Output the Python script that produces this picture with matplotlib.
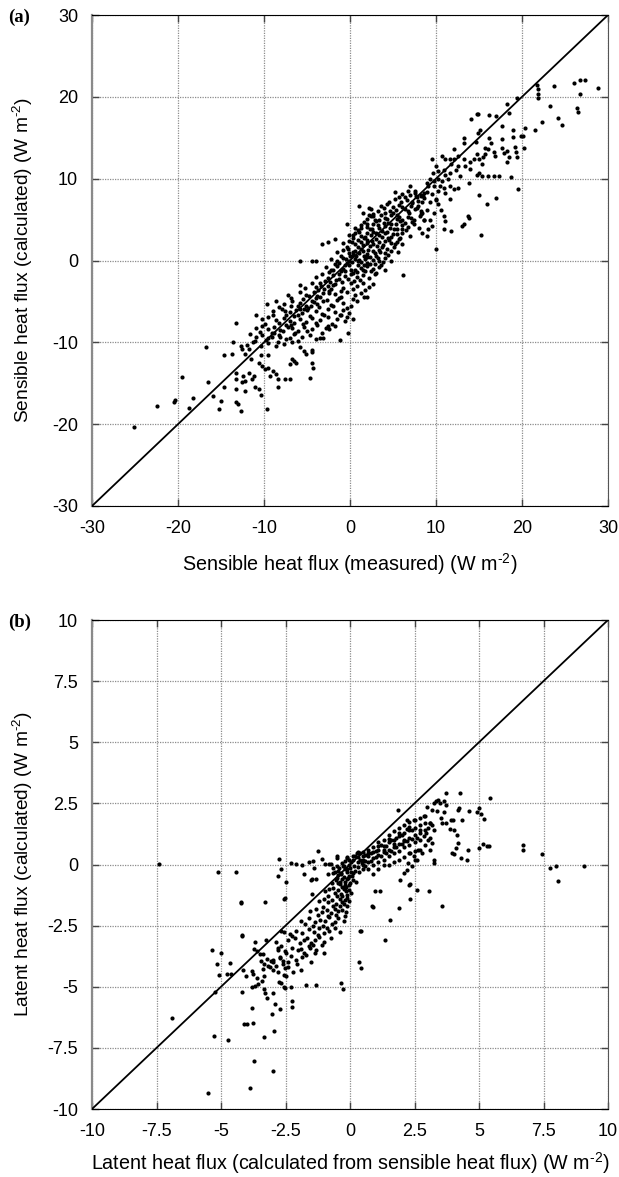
import numpy as np
import matplotlib.pyplot as plt
from matplotlib.ticker import FuncFormatter

plt.rcParams['font.family'] = ['Liberation Sans', 'DejaVu Sans']
plt.rcParams['mathtext.fontset'] = 'custom'
plt.rcParams['mathtext.rm'] = 'Liberation Sans'
plt.rcParams['mathtext.default'] = 'regular'

# ---- panel (a): sensible heat flux, measured vs calculated (W m-2) ----
a_low_tail = [
    (-25.1, -20.4), (-22.4, -17.8), (-20.5, -17.3), (-20.3, -17.0), (-19.5, -14.2), (-18.7, -18.0),
    (-18.3, -16.8), (-16.8, -10.6), (-16.5, -14.9), (-15.9, -16.5), (-15.2, -18.2), (-15.0, -17.2),
    (-14.7, -15.5), (-14.7, -11.6), (-13.6, -10.0), (-13.7, -11.4), (-13.3, -7.6), (-13.3, -13.7),
    (-13.2, -14.5), (-13.3, -15.7), (-13.2, -17.3), (-13.0, -17.5), (-12.7, -18.4), (-12.7, -10.4),
    (-12.6, -10.8), (-12.4, -14.1), (-12.2, -14.7), (-12.6, -14.9), (-12.2, -11.4), (-11.7, -10.8),
    (-11.5, -12.0), (-11.7, -13.7), (-11.2, -14.1), (-11.4, -14.5), (-12.2, -15.9), (-11.0, -15.5),
    (-10.6, -15.7), (-10.4, -16.4), (-9.7, -18.1), (-10.9, -6.6), (-10.6, -12.5), (-10.2, -12.9),
    (-9.9, -13.2), (-9.5, -13.1), (-9.0, -13.5), (-9.3, -14.1), (-8.6, -13.9), (-8.4, -14.5),
    (-10.4, -11.6), (-9.5, -11.6), (-9.6, -5.3), (-8.4, -15.5), (-7.6, -14.5), (-7.0, -14.5),
    (-7.2, -4.2), (-6.7, -12.0), (-6.5, -12.3), (-7.0, -12.7), (-6.3, -12.5), (-4.7, -14.3),
    (-4.4, -12.5), (-4.3, -13.1), (-4.4, -10.9), (-4.4, -11.2), (-5.4, -11.0), (-5.1, -11.4),
    (-1.2, -9.7), (-0.2, -8.9), (0.4, -7.1), (-0.3, -6.9), (-3.5, -9.5), (-3.1, -9.5),
    (-1.5, -7.1), (-1.0, -6.7), (-2.6, -8.0), (-2.4, -8.4),
]

a_band_neg = [
    (-12.0, -10.3), (-11.3, -10.0), (-10.4, -10.4), (-9.5, -10.1), (-8.6, -10.5), (-7.7, -10.2),
    (-6.7, -9.9), (-5.8, -10.6),
    (-11.6, -9.0), (-10.9, -9.4), (-10.2, -9.1), (-9.5, -9.5), (-8.8, -8.9), (-8.1, -9.3),
    (-7.4, -9.6), (-6.5, -9.0), (-5.6, -9.4), (-4.7, -9.1), (-4.0, -9.6),
    (-10.9, -8.3), (-10.2, -8.0), (-9.5, -8.4), (-8.8, -8.1), (-8.1, -8.5), (-7.4, -7.9),
    (-6.7, -8.3), (-6.1, -8.6), (-5.4, -8.1), (-4.4, -8.4), (-3.8, -7.9), (-2.8, -8.3), (-1.7, -8.0),
    (-10.2, -7.2), (-9.5, -6.9), (-8.6, -7.3), (-7.7, -7.0), (-7.0, -7.4), (-6.5, -6.8),
    (-5.8, -7.2), (-5.1, -7.5), (-4.4, -7.0), (-3.5, -7.3), (-2.6, -6.9), (-0.6, -7.4),
    (-9.0, -6.2), (-7.9, -5.9), (-7.0, -6.3), (-6.3, -6.0), (-5.6, -6.4), (-4.9, -5.8),
    (-4.0, -6.2), (-3.3, -6.5), (-2.6, -5.9), (-1.7, -6.3), (-0.8, -6.0), (-0.1, -6.4),
    (-8.6, -5.0), (-7.7, -5.3), (-6.7, -4.9), (-5.8, -5.2), (-5.1, -5.5), (-4.4, -4.9),
    (-3.8, -5.3), (-3.1, -5.0), (-2.2, -5.4), (-1.5, -4.8), (-0.8, -5.2), (0.1, -5.5), (0.8, -5.0),
    (-5.8, -3.8), (-5.1, -4.2), (-4.2, -3.9), (-3.8, -4.3), (-3.1, -4.0), (-2.4, -3.7),
    (-1.7, -4.1), (-1.0, -4.4), (-0.3, -3.9), (0.6, -4.2), (1.3, -4.0), (2.0, -4.4),
    (-5.8, -3.0), (-4.4, -2.8), (-4.0, -3.2), (-3.5, -2.7), (-2.6, -3.1), (-1.7, -2.9),
    (-0.8, -3.3), (0.1, -2.8), (0.8, -3.1), (1.5, -2.7), (2.2, -3.2), (2.7, -2.9),
    (-11.1, -9.8), (-9.8, -9.7), (-8.4, -9.9), (-7.0, -9.5), (-6.0, -9.8),
    (-10.5, -8.7), (-9.1, -8.8), (-7.8, -8.6), (-6.4, -8.9), (-5.0, -8.6), (-3.3, -8.8),
    (-9.9, -7.7), (-8.2, -7.6), (-6.9, -7.9), (-5.5, -7.7), (-4.0, -7.6), (-2.1, -7.8),
    (-8.9, -6.6), (-7.4, -6.7), (-6.0, -6.6), (-4.6, -6.8), (-3.0, -6.6), (-1.2, -6.7),
    (-8.2, -5.7), (-6.9, -5.6), (-5.3, -5.9), (-3.6, -5.7), (-2.0, -5.6), (-0.4, -5.8),
    (-6.9, -4.6), (-5.5, -4.7), (-4.0, -4.6), (-2.7, -4.8), (-1.3, -4.6), (0.3, -4.7), (1.6, -4.5),
    (-5.2, -3.4), (-3.7, -3.6), (-2.2, -3.5), (-1.1, -3.7), (0.4, -3.5), (1.8, -3.6),
]

a_core = [
    (-3.99, -2.0), (-3.3, -1.7), (-2.61, -2.1), (-1.93, -1.8), (-1.24, -2.2), (-0.55, -1.9),
    (0.14, -1.6), (0.83, -2.0), (1.51, -1.8), (2.2, -2.1), (2.89, -1.7), (6.2, -1.8),
    (-2.84, -0.8), (-2.16, -1.1), (-1.47, -0.7), (-0.78, -1.0), (-0.09, -0.6), (0.6, -1.2),
    (1.28, -0.9), (1.97, -0.7), (2.66, -1.0), (3.35, -0.8), (4.04, -1.1),
    (-5.8, 0.0), (-4.4, 0.0), (-4.0, 0.0), (-2.16, 0.2), (-1.47, -0.1), (-0.78, 0.3), (-0.09, 0.0),
    (0.6, 0.2), (1.28, -0.2), (1.97, 0.4), (2.66, 0.1), (3.35, -0.1), (4.04, 0.3), (4.72, 0.0),
    (-1.47, 1.0), (-0.78, 1.3), (-0.09, 0.9), (0.6, 1.2), (1.28, 1.4), (1.97, 0.8), (2.66, 1.1),
    (3.35, 1.3), (4.04, 0.9), (4.72, 1.2), (5.6, 1.0), (10.0, 1.4),
    (-3.2, 2.0), (-2.6, 2.2), (-1.8, 2.6), (-0.78, 2.1), (-0.09, 2.4), (0.6, 2.0), (1.28, 2.3),
    (1.97, 2.5), (2.66, 2.0), (3.35, 2.2), (4.04, 2.4), (4.72, 2.1), (5.41, 2.3), (6.1, 2.0),
    (-0.09, 3.1), (0.6, 3.4), (1.28, 3.0), (1.97, 3.3), (2.66, 3.5), (3.35, 3.1), (4.04, 3.3),
    (4.72, 2.9), (5.41, 3.2), (6.1, 3.4), (7.0, 3.0),
    (-0.3, 4.4), (0.6, 4.0), (1.28, 4.3), (1.97, 4.1), (2.66, 4.4), (3.35, 4.0), (4.04, 4.2),
    (4.72, 4.5), (5.41, 3.9), (6.1, 4.3), (6.79, 4.1), (7.48, 4.4), (8.0, 4.0),
    (1.97, 5.1), (2.66, 5.4), (3.35, 5.0), (4.04, 5.2), (4.72, 5.5), (5.41, 5.1), (6.1, 4.9),
    (6.79, 5.3), (7.48, 5.0), (8.17, 5.4), (8.6, 5.0),
    (2.4, 6.3), (3.3, 6.1), (4.0, 6.4), (4.7, 6.0), (5.4, 6.2), (6.1, 6.5), (6.8, 6.1), (7.5, 6.3),
    (8.2, 6.0), (8.9, 6.2),
    (4.5, 7.2), (5.2, 7.5), (5.9, 7.1), (6.6, 7.4), (7.2, 7.0), (7.9, 7.3), (8.6, 7.6), (9.3, 7.2),
    (10.0, 7.4),
    (5.2, 8.4), (6.1, 8.1), (6.8, 8.5), (7.5, 8.2), (8.2, 8.0), (8.9, 8.4), (9.5, 8.1), (10.2, 8.5),
    (-2.5, -1.4), (-1.0, -1.3), (0.4, -1.5), (1.8, -1.3), (3.0, -1.5),
    (-1.8, -0.4), (-0.4, -0.3), (0.9, -0.5), (2.3, -0.4), (3.6, -0.5),
    (-1.1, 0.6), (0.3, 0.7), (1.6, 0.5), (3.0, 0.6), (4.4, 0.7),
    (-0.4, 1.7), (0.9, 1.6), (2.3, 1.8), (3.7, 1.7), (5.1, 1.6),
    (0.3, 2.7), (1.6, 2.8), (3.0, 2.6), (4.4, 2.7), (5.8, 2.8),
    (0.9, 3.7), (2.3, 3.8), (3.7, 3.6), (5.1, 3.8), (6.5, 3.7),
    (1.6, 4.7), (3.0, 4.8), (4.4, 4.6), (5.8, 4.8), (7.2, 4.7),
    (2.7, 5.7), (4.1, 5.8), (5.5, 5.6), (6.9, 5.8), (8.3, 5.7),
    (2.2, 6.4), (2.4, 5.4), (1.1, 6.7), (1.5, 5.8),
]

a_dense = [
    (-2.9, -2.5), (-2.3, -2.6), (-1.6, -2.4), (-0.9, -2.6), (-0.2, -2.3), (0.5, -2.5), (1.2, -2.4),
    (-2.0, -1.2), (-1.3, -1.6), (-0.6, -1.3), (0.1, -1.1), (0.8, -1.4), (1.5, -1.2), (2.4, -1.3),
    (-1.3, -0.3), (-0.6, -0.6), (0.2, -0.2), (0.9, -0.1), (1.6, -0.6), (2.0, -0.3), (2.9, -0.4),
    (-0.5, 0.2), (0.0, 0.5), (0.7, 0.5), (1.1, 0.1), (1.8, 0.2), (2.3, 0.4), (3.2, 0.3), (3.8, -0.2),
    (-0.2, 1.4), (0.4, 1.0), (1.0, 0.9), (1.5, 1.1), (2.1, 1.3), (2.9, 0.9), (3.5, 1.0), (4.3, 1.4),
    (0.2, 2.2), (0.9, 2.5), (1.5, 1.9), (2.0, 2.1), (2.5, 2.4), (3.1, 1.8), (3.8, 1.9), (4.5, 2.5),
    (5.2, 2.0), (0.4, 3.1), (1.1, 3.5), (1.7, 2.9), (2.4, 3.1), (3.0, 3.3), (3.7, 2.9), (4.3, 3.5),
    (5.0, 3.2), (5.7, 2.6), (1.3, 4.0), (2.0, 4.5), (2.6, 3.9), (3.2, 4.3), (3.9, 4.6), (4.6, 4.0),
    (5.3, 4.4), (6.0, 3.8), (2.2, 5.6), (2.9, 5.0), (3.6, 5.5), (4.3, 5.1), (5.0, 5.8), (5.7, 5.3),
    (6.4, 4.6), (7.1, 5.2), (3.6, 6.6), (4.3, 6.9), (5.0, 6.5), (5.7, 6.8), (6.4, 6.3), (7.1, 6.7),
    (7.8, 6.4), (5.7, 7.8), (6.4, 7.7), (7.0, 8.0), (7.8, 7.7), (8.5, 7.9),
    (-5.0, -6.0), (-4.5, -5.5), (-3.5, -4.5), (-3.0, -3.5), (-2.5, -4.0), (-4.8, -4.3), (-6.1, -5.6),
    (-6.5, -7.6), (-7.2, -8.1), (-8.3, -9.1), (-9.1, -9.4), (-7.6, -6.2), (-5.8, -5.9), (-4.2, -5.1),
    (-3.4, -3.1), (-2.0, -3.0),
]

a_high = [
    (21.7, 21.5), (21.9, 21.0), (21.9, 20.4), (21.9, 19.8), (23.7, 21.3), (26.1, 21.7), (26.7, 22.0),
    (27.3, 22.0), (26.8, 20.3), (28.8, 21.1), (23.2, 18.9), (22.3, 16.9), (24.2, 17.4), (24.7, 16.6),
    (26.4, 18.6), (26.5, 18.1), (19.4, 19.8), (18.2, 19.1), (18.5, 18.0), (17.0, 17.6), (17.7, 16.4),
    (16.2, 17.8), (14.8, 17.9), (14.9, 17.9), (14.1, 17.3), (19.0, 16.0), (18.9, 15.1), (19.9, 15.2),
    (20.1, 15.2), (20.3, 16.2), (21.5, 15.9), (20.2, 13.8), (19.5, 8.7), (15.1, 16.0), (14.9, 15.6),
    (13.2, 15.0), (13.3, 14.4), (14.6, 14.5), (16.2, 15.0), (16.4, 14.4), (17.7, 14.8), (15.7, 13.8),
    (16.1, 13.6), (16.7, 13.3), (16.9, 12.8), (18.3, 13.4), (18.5, 12.6), (18.3, 12.0), (19.2, 13.9),
    (19.3, 13.3), (19.4, 12.7), (17.7, 13.8), (17.9, 13.1), (12.1, 13.6), (12.1, 12.4), (12.5, 12.8),
    (13.2, 12.4), (13.4, 11.6), (13.9, 12.0), (13.9, 11.2), (14.4, 12.4), (14.8, 13.0), (15.0, 12.4),
    (15.4, 11.8), (15.7, 13.0), (15.5, 12.6), (13.8, 9.5), (14.8, 10.5), (15.0, 10.7), (15.3, 10.3),
    (16.0, 10.3), (16.7, 10.3), (17.3, 10.3), (18.7, 10.2), (15.0, 8.0), (15.9, 6.9), (17.0, 7.6),
    (10.7, 12.8), (11.1, 12.4), (11.6, 12.4), (11.8, 11.8), (10.0, 11.6), (10.2, 10.9), (10.9, 11.1),
    (11.1, 10.5), (11.6, 10.7), (12.3, 11.1), (12.5, 11.6), (12.8, 10.3), (9.5, 12.4), (9.6, 10.7),
    (9.3, 9.9), (9.8, 9.7), (10.2, 9.9), (10.7, 9.7), (11.4, 9.9), (8.9, 9.5), (9.1, 9.1), (9.8, 9.1),
    (10.5, 9.1), (10.9, 8.9), (11.6, 9.1), (12.1, 8.7), (12.5, 8.8), (11.1, 8.3), (11.6, 7.5),
    (10.0, 7.5), (10.2, 6.9), (10.6, 6.2), (10.9, 5.4), (11.1, 4.8), (10.9, 3.8), (11.8, 3.6),
    (13.0, 4.2), (13.2, 4.4), (13.7, 5.4), (13.8, 5.2), (15.2, 3.1), (8.2, 7.9), (8.4, 7.1),
    (8.6, 8.3), (7.0, 9.1), (7.5, 8.5), (7.7, 7.9), (7.2, 7.1), (7.9, 6.7), (8.4, 5.8), (8.6, 5.0),
    (9.3, 5.0), (9.5, 4.2), (9.8, 5.8), (8.4, 3.4), (8.9, 3.0), (9.1, 3.8),
]

# ---- panel (b): latent heat flux (W m-2) ----
b_left_tail = [
    (-7.4, 0.04), (-5.1, -0.3), (-4.43, -0.3), (-6.88, -6.28), (-5.49, -9.35), (-5.26, -7.02),
    (-4.74, -7.16), (-5.34, -3.49), (-5.15, -4.08), (-5.0, -3.6), (-5.08, -4.53), (-4.77, -4.49),
    (-4.62, -4.49), (-5.23, -5.21), (-4.65, -4.03), (-4.24, -1.54), (-4.18, -2.88), (-4.2, -5.21),
    (-4.14, -4.31), (-4.05, -4.55), (-4.11, -6.54), (-4.01, -6.51), (-3.81, -4.35), (-3.75, -4.46),
    (-3.79, -5.03), (-3.7, -4.97), (-3.81, -5.85), (-3.75, -6.47), (-3.7, -3.18), (-3.73, -3.45),
    (-3.62, -3.53), (-3.59, -4.66), (-3.55, -4.9), (-3.5, -3.66), (-3.39, -3.66), (-3.44, -3.94),
    (-3.39, -4.28), (-3.35, -4.58), (-3.42, -4.76), (-3.35, -5.1), (-3.29, -1.54), (-3.32, -4.08),
    (-3.23, -3.87), (-3.17, -4.17), (-3.06, -3.94), (-3.09, -4.21), (-2.97, -4.0), (-2.86, -4.14),
    (-3.29, -5.24), (-3.2, -5.45), (-3.35, -7.06), (-3.73, -8.05), (-3.88, -9.14), (-2.97, -8.43),
    (-2.94, -6.79), (-3.04, -6.1), (-2.97, -5.24), (-2.89, -5.69), (-2.71, -5.9), (-2.77, -4.8),
    (-2.68, -4.83), (-2.55, -5.0), (-2.52, -5.05), (-2.55, -4.53), (-2.48, -4.55), (-2.29, -5.0),
    (-2.25, -5.58), (-2.25, -5.83), (-3.24, -3.09), (-2.86, -3.18), (-2.78, -3.43), (-2.68, -3.32),
    (-2.52, -3.53), (-2.71, -3.82), (-2.52, -4.25), (-2.61, -4.08), (-2.68, -2.7), (-2.55, -2.77),
    (-2.32, -2.84), (-2.25, -2.91), (-2.52, -1.38), (-1.71, -4.94), (-1.33, -4.94), (-0.34, -4.86),
    (-0.29, -5.08), (-4.23, -1.58), (-4.18, -2.92),
]

b_near_zero = [
    (-2.75, 0.23), (-2.68, -0.18), (-2.78, -0.48), (-2.48, -0.71), (-2.29, 0.07), (-2.09, 0.04),
    (-1.87, -0.01), (-1.79, -0.37), (-1.59, 0.1), (-1.44, 0.14), (-1.41, -0.14), (-1.48, -0.59),
    (-1.33, -0.59), (-1.25, 0.54), (-1.1, 0.24), (-0.95, 0.04), (-0.87, -0.37), (-0.72, 0.04),
    (-0.64, -0.34), (-0.49, 0.27), (-0.41, -0.14), (-0.26, -0.07), (-0.11, 0.27), (-2.54, -1.42),
    (-1.49, -1.2), (-1.51, -0.63), (-0.48, -0.76), (-0.39, -0.70), (-0.45, -0.42), (-0.52, 0.33),
    (-0.13, 0.3), (0.13, 0.33), (0.26, 0.46), (0.39, 0.49), (-0.8, 0.01), (-0.65, -0.15), (-0.52, -0.05),
]

b_steep = [
    (-3.0, -4.3), (-2.8, -4.4), (-2.4, -4.2), (-2.2, -4.4), (-1.9, -4.3),
    (-3.0, -3.9), (-2.7, -3.8), (-2.4, -4.0), (-2.1, -3.9), (-1.85, -3.8), (-1.5, -4.0),
    (-2.8, -3.5), (-2.5, -3.6), (-2.25, -3.4), (-2.0, -3.5), (-1.8, -3.6), (-1.55, -3.4), (-1.3, -3.5),
    (-1.0, -3.6),
    (-2.4, -3.1), (-2.15, -3.0), (-1.95, -3.2), (-1.8, -3.1), (-1.65, -3.0), (-1.5, -3.2),
    (-1.35, -3.1), (-1.2, -2.95), (-1.0, -3.15), (-0.75, -3.0),
    (-2.1, -2.7), (-1.85, -2.8), (-1.6, -2.65), (-1.4, -2.75), (-1.2, -2.6), (-1.0, -2.8),
    (-0.8, -2.7), (-0.6, -2.6), (-0.4, -2.75),
    (-1.9, -2.3), (-1.6, -2.2), (-1.35, -2.35), (-1.15, -2.25), (-0.95, -2.3), (-0.8, -2.15),
    (-0.6, -2.35), (-0.45, -2.2), (-0.25, -2.3),
    (-1.55, -1.9), (-1.3, -1.8), (-1.1, -1.95), (-0.9, -1.85), (-0.75, -2.0), (-0.6, -1.8),
    (-0.45, -1.9), (-0.3, -1.85), (-0.15, -1.95),
    (-1.2, -1.5), (-1.0, -1.4), (-0.85, -1.55), (-0.7, -1.45), (-0.55, -1.6), (-0.4, -1.4),
    (-0.3, -1.55), (-0.2, -1.45), (-0.05, -1.5),
    (-0.95, -1.1), (-0.8, -1.0), (-0.6, -1.15), (-0.45, -1.05), (-0.35, -1.2), (-0.25, -1.0),
    (-0.15, -1.1), (-0.05, -1.05), (0.05, -1.15),
    (-0.7, -0.75), (-0.55, -0.65), (-0.4, -0.8), (-0.3, -0.6), (-0.2, -0.7), (-0.1, -0.6),
    (0.0, -0.75), (0.1, -0.65), (0.25, -0.7),
    (-0.6, -0.3), (-0.45, -0.25), (-0.35, -0.35), (-0.2, -0.2), (-0.1, -0.3), (0.0, -0.15),
    (0.1, -0.35), (0.2, -0.25), (0.35, -0.3), (0.5, -0.2),
    (-0.3, 0.05), (-0.2, 0.15), (-0.05, 0.0), (0.05, 0.1), (0.15, -0.05), (0.3, 0.1), (0.45, 0.05),
    (0.6, 0.15),
    (-0.25, -0.5), (-0.15, -0.9), (-0.3, -1.3), (-0.1, -1.7), (-0.2, -2.1), (-0.35, -0.4),
    (-0.05, -0.45), (-0.2, -0.85), (-0.5, -1.3), (-0.65, -1.7), (-0.85, -2.1), (-1.05, -2.5),
    (-1.25, -2.9), (-1.45, -3.3), (-1.7, -3.7),
]

b_dense = [
    (-0.12, -0.2), (-0.08, -0.55), (-0.18, -0.95), (-0.1, -1.25), (-0.25, -1.6), (-0.12, -1.35),
    (-0.02, -0.85), (0.02, -0.3), (-0.22, -0.05), (-0.05, 0.2), (0.1, 0.2), (0.2, 0.35),
    (0.08, -0.45), (-0.3, -0.9), (-0.4, -1.7), (-0.55, -2.05), (-0.7, -2.45), (-0.9, -2.6),
    (-1.1, -3.3), (-1.35, -3.6), (-1.6, -3.35), (-1.9, -3.45), (-2.05, -4.05), (-2.3, -3.75),
    (-2.6, -3.95), (-1.75, -2.45), (-1.45, -2.5), (-1.25, -2.05), (-1.05, -1.75), (-0.85, -1.3),
    (-0.65, -0.95), (-0.5, -0.55),
    (0.4, 0.2), (0.6, 0.4), (0.8, 0.45), (1.0, 0.55), (1.2, 0.8), (1.4, 0.75), (1.6, 1.0),
    (1.8, 1.1), (2.0, 1.2), (2.2, 1.45), (0.6, -0.05), (0.8, 0.15), (1.0, 0.3), (1.2, 0.35),
    (1.4, 0.45), (1.6, 0.55), (1.8, 0.7), (2.0, 0.85), (2.2, 0.95), (2.4, 1.05), (2.6, 1.1),
]

b_right = [
    (0.43, -2.74), (0.88, -1.72), (0.97, -1.1), (1.16, -1.1), (1.36, -3.08), (1.55, -2.26),
    (1.9, -1.76), (2.33, -1.42), (2.59, -1.04), (3.08, -1.1), (3.58, -1.69), (0.35, -3.98),
    (0.43, -4.25), (0.4, -2.72), (0.86, -1.68), (2.31, -0.79), (8.07, -0.69), (2.3, -0.83),
    (1.94, -0.63), (2.1, -0.35), (2.2, -0.22), (2.26, 0.05),
    (0.3, 0.3), (0.3, -0.1), (0.3, 0.5),
    (0.5, 0.5), (0.5, 0.2), (0.5, 0.0), (0.5, 0.35),
    (0.7, 0.6), (0.7, 0.35), (0.7, 0.1), (0.7, -0.2), (0.7, 0.45),
    (0.9, 0.7), (0.9, 0.5), (0.9, 0.25), (0.9, 0.0), (0.9, -0.4),
    (1.1, 0.9), (1.1, 0.6), (1.1, 0.4), (1.1, 0.1), (1.1, -0.2), (1.1, 0.75),
    (1.3, 1.0), (1.3, 0.75), (1.3, 0.5), (1.3, 0.2), (1.3, 0.0), (1.3, 0.6),
    (1.5, 1.2), (1.5, 0.9), (1.5, 0.6), (1.5, 0.35), (1.5, 0.0), (1.5, 1.05),
    (1.7, 1.35), (1.7, 1.0), (1.7, 0.7), (1.7, 0.45), (1.7, 0.1), (1.7, 0.85),
    (1.9, 1.5), (1.9, 1.15), (1.9, 0.85), (1.9, 0.55), (1.9, 0.2), (1.9, 1.3),
    (2.1, 1.6), (2.1, 1.3), (2.1, 1.0), (2.1, 0.7), (2.1, 0.3), (2.1, 0.95),
    (2.3, 1.75), (2.3, 1.4), (2.3, 1.1), (2.3, 0.8), (2.3, 0.45), (2.3, 1.55),
    (2.5, 1.8), (2.5, 1.5), (2.5, 1.2), (2.5, 0.9), (2.5, 0.55), (2.5, 0.2),
    (2.7, 1.9), (2.7, 1.6), (2.7, 1.3), (2.7, 1.0), (2.7, 0.6),
    (2.9, 2.0), (2.9, 1.7), (2.9, 1.4), (2.9, 0.8),
    (3.1, 1.7), (3.1, 1.1), (3.1, 0.6),
    (1.85, 2.24), (2.19, 1.84), (2.42, 1.43), (2.49, 1.84),
    (2.87, 1.97), (2.98, 2.35), (3.18, 2.24), (3.26, 2.52), (3.33, 2.59), (3.41, 2.65), (3.49, 2.52),
    (3.64, 2.59), (3.72, 2.45), (3.72, 2.93), (3.64, 2.14), (3.53, 1.9), (3.38, 2.18), (4.25, 2.93),
    (4.17, 2.24), (4.22, 2.31), (3.98, 1.84), (3.91, 1.84), (4.33, 1.84), (4.63, 2.18), (5.0, 2.31),
    (5.09, 2.08), (5.21, 1.86), (5.44, 2.72), (4.94, 2.15), (3.1, 1.7), (3.18, 1.63), (3.03, 1.5),
    (3.26, 1.43), (3.56, 1.7), (3.72, 1.7), (3.87, 1.46), (4.02, 1.43), (4.14, 1.22), (4.17, 0.88),
    (4.1, 0.68), (3.94, 0.48), (4.02, 0.41), (4.3, 0.27), (4.53, 0.18), (4.59, 0.61), (5.0, 0.68),
    (5.17, 0.82), (5.32, 0.75), (5.4, 0.75), (6.7, 0.78), (6.7, 0.61), (7.43, 0.41), (7.74, -0.14),
    (8.0, -0.07), (9.07, -0.07), (3.26, 0.07), (3.26, 0.2),
    (2.65, 0.61), (2.8, 0.48), (2.49, 0.34), (2.34, 0.48), (2.61, 0.2), (2.42, -0.07),
    (2.87, 1.16), (3.03, 1.02), (3.18, 0.88), (2.72, 1.43), (2.95, 1.29),
]

a_ticks = [-30, -20, -10, 0, 10, 20, 30]
b_ticks = [-10, -7.5, -5, -2.5, 0, 2.5, 5, 7.5, 10]

W, H = 619, 1177
fig = plt.figure(figsize=(W / 100, H / 100), dpi=100)
ax_a = fig.add_axes([92 / W, 1 - 506 / H, 516 / W, 491 / H])
ax_b = fig.add_axes([92 / W, 1 - 1109 / H, 516 / W, 489 / H])

UNIT = ' (W m$^{\u2010' + '2}$)'


def style(ax, ticks, xlabel, ylabel, xpad):
    lo, hi = ticks[0], ticks[-1]
    ax.plot([lo, hi], [lo, hi], color='black', lw=1.3, zorder=3)
    ax.set_xlim(lo, hi)
    ax.set_ylim(lo, hi)
    ax.set_xticks(ticks)
    ax.set_yticks(ticks)
    fmt = FuncFormatter(lambda v, p: f'{v:g}')
    ax.xaxis.set_major_formatter(fmt)
    ax.yaxis.set_major_formatter(fmt)
    ax.grid(True, color='#8c8c8c', lw=0.9, linestyle=(0, (1, 1)))
    ax.set_axisbelow(True)
    ax.tick_params(direction='in', length=5, width=1, color='#444444', labelsize=13,
                   pad=10, top=True, right=True)
    ax.spines['left'].set_color('#8a8a8a')
    ax.spines['left'].set_linewidth(1.6)
    ax.spines['bottom'].set_color('black')
    ax.spines['top'].set_color('black')
    ax.spines['right'].set_color('#555555')
    ax.set_xlabel(xlabel + UNIT, fontsize=14.2, labelpad=xpad)
    ax.set_ylabel(ylabel + UNIT, fontsize=13.8)
    ax.yaxis.set_label_coords(-0.11, 0.5)


def scatter(ax, groups):
    pts = np.array([p for g in groups for p in g])
    ax.scatter(pts[:, 0], pts[:, 1], s=9, color='black', linewidths=0, zorder=4)


scatter(ax_a, [a_low_tail, a_band_neg, a_core, a_dense, a_high])
style(ax_a, a_ticks, 'Sensible heat flux (measured)', 'Sensible heat flux (calculated)', 10)

scatter(ax_b, [b_left_tail, b_near_zero, b_steep, b_dense, b_right])
style(ax_b, b_ticks, 'Latent heat flux (calculated from sensible heat flux)',
      'Latent heat flux (calculated)', 7)

fig.text(8 / W, 1 - 17 / H, '(a)', family='Liberation Serif', fontweight='bold',
         fontsize=13.5, va='center', ha='left')
fig.text(8 / W, 1 - 622 / H, '(b)', family='Liberation Serif', fontweight='bold',
         fontsize=13.5, va='center', ha='left')

fig.savefig('out.png', dpi=100)
